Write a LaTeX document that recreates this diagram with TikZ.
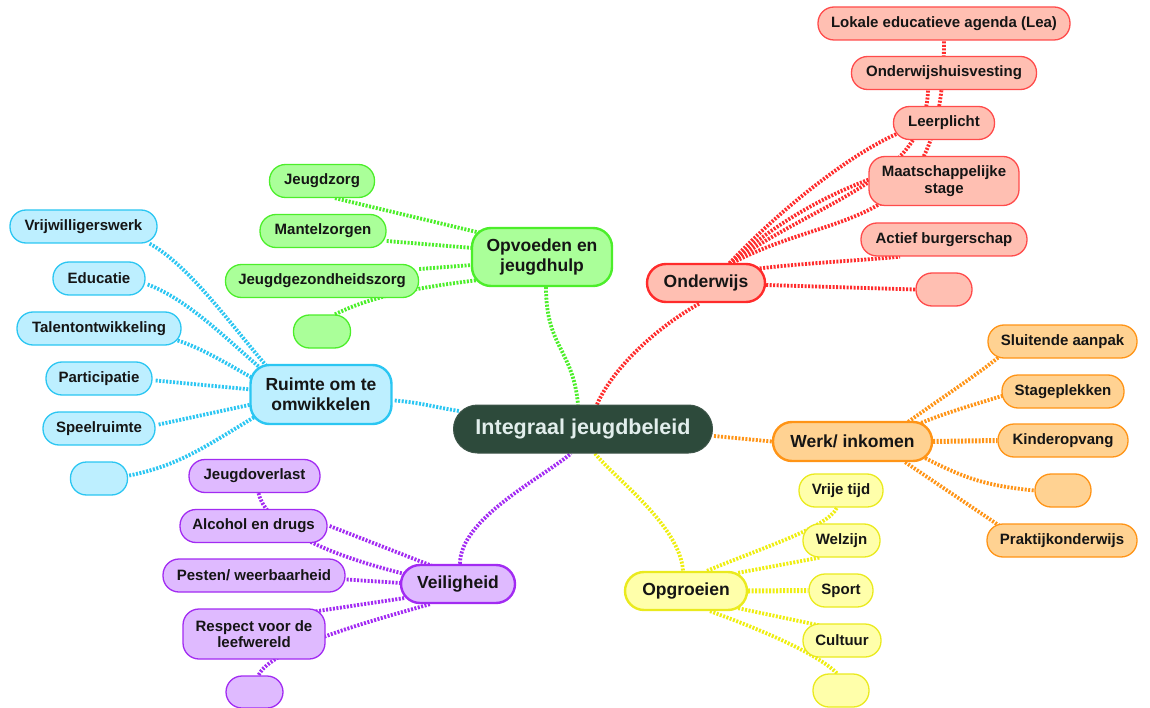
\documentclass[tikz,border=0pt]{standalone}
\usepackage{fontspec}
\setmainfont{Liberation Sans}
\usetikzlibrary{calc,backgrounds}
\definecolor{cdark}{HTML}{2D4A3B}
\definecolor{ctext}{HTML}{E2EEEC}
\definecolor{rfill}{HTML}{FFBFB2}\definecolor{rline}{HTML}{FF2B2B}
\definecolor{gfill}{HTML}{AAFF99}\definecolor{gline}{HTML}{4CEE2A}
\definecolor{bfill}{HTML}{BDEFFF}\definecolor{bline}{HTML}{2BC6F2}
\definecolor{pfill}{HTML}{DFBAFF}\definecolor{pline}{HTML}{A22BF2}
\definecolor{yfill}{HTML}{FFFFAA}\definecolor{yline}{HTML}{EAEA1E}
\definecolor{ycon}{HTML}{EEEE10}
\definecolor{ofill}{HTML}{FFD292}\definecolor{oline}{HTML}{FF9416}
\definecolor{tdark}{HTML}{151515}
\tikzset{
  leaf/.style={rectangle, rounded corners=16pt, minimum height=33pt, inner sep=0pt,
    line width=1.3pt, align=center, text=tdark,
    font=\fontsize{15}{17}\selectfont\bfseries},
  hub/.style={rectangle, rounded corners=19pt, minimum height=38pt, inner sep=0pt,
    line width=2.4pt, align=center, text=tdark,
    font=\fontsize{17.5}{20}\selectfont\bfseries},
  rleaf/.style={leaf, fill=rfill, draw=rline!85},
  gleaf/.style={leaf, fill=gfill, draw=gline},
  bleaf/.style={leaf, fill=bfill, draw=bline},
  pleaf/.style={leaf, fill=pfill, draw=pline},
  yleaf/.style={leaf, fill=yfill, draw=yline},
  oleaf/.style={leaf, fill=ofill, draw=oline},
  con/.style={line width=3.8pt, dash pattern=on 2pt off 1.5pt},
  heavy/.style={line width=5pt},
  rcon/.style={con, draw=rline},
  gcon/.style={con, draw=gline},
  bcon/.style={con, draw=bline},
  pcon/.style={con, draw=pline},
  ycon/.style={con, draw=ycon},
  ocon/.style={con, draw=oline},
}
\begin{document}
\begin{tikzpicture}[x=1pt,y=-1pt]
\useasboundingbox (0,0) rectangle (1150,708);

% center
\node[rectangle, rounded corners=24pt, minimum width=259pt, minimum height=48pt, inner sep=0pt,
  fill=cdark, draw=cdark!80!gray, line width=1pt, text=ctext,
  font=\fontsize{21.5}{24}\selectfont\bfseries] (c) at (583,429) {Integraal jeugdbeleid};

% Onderwijs
\node[hub, fill=rfill, draw=rline, minimum width=118pt] (ow) at (706,283) {Onderwijs};
\node[rleaf, minimum width=252pt] (ow1) at (944,23.5) {Lokale educatieve agenda (Lea)};
\node[rleaf, minimum width=185pt] (ow2) at (944,73) {Onderwijshuisvesting};
\node[rleaf, minimum width=101pt] (ow3) at (944,123) {Leerplicht};
\node[rleaf, minimum width=150pt, minimum height=49pt, font=\fontsize{15}{16.5}\selectfont\bfseries] (ow4) at (944,181) {Maatschappelijke\\stage};
\node[rleaf, minimum width=166pt] (ow5) at (944,239.5) {Actief burgerschap};
\node[rleaf, minimum width=56pt] (ow6) at (944,289.5) {};

% Opvoeden
\node[hub, fill=gfill, draw=gline, minimum width=140pt, minimum height=58pt] (op) at (542,257) {Opvoeden en\\jeugdhulp};
\node[gleaf, minimum width=105pt] (op1) at (322,181) {Jeugdzorg};
\node[gleaf, minimum width=126pt] (op2) at (323,231) {Mantelzorgen};
\node[gleaf, minimum width=193pt] (op3) at (322,281) {Jeugdgezondheidszorg};
\node[gleaf, minimum width=57pt] (op4) at (322,331.5) {};

% Ruimte
\node[hub, fill=bfill, draw=bline, minimum width=141pt, minimum height=59pt] (ru) at (321,394.5) {Ruimte om te\\omwikkelen};
\node[bleaf, minimum width=147pt] (ru1) at (83.5,226.5) {Vrijwilligerswerk};
\node[bleaf, minimum width=92pt] (ru2) at (99,278.5) {Educatie};
\node[bleaf, minimum width=164pt] (ru3) at (99,328.5) {Talentontwikkeling};
\node[bleaf, minimum width=106pt] (ru4) at (99,378.5) {Participatie};
\node[bleaf, minimum width=112pt] (ru5) at (99,428.5) {Speelruimte};
\node[bleaf, minimum width=57pt] (ru6) at (99,478.5) {};

% Veiligheid
\node[hub, fill=pfill, draw=pline, minimum width=114pt] (ve) at (458,584) {Veiligheid};
\node[pleaf, minimum width=131pt] (ve1) at (254.5,476) {Jeugdoverlast};
\node[pleaf, minimum width=147pt] (ve2) at (253.5,526) {Alcohol en drugs};
\node[pleaf, minimum width=182pt] (ve3) at (254,575.5) {Pesten/ weerbaarheid};
\node[pleaf, minimum width=142pt, minimum height=50pt, font=\fontsize{15}{16.5}\selectfont\bfseries] (ve4) at (254,634) {Respect voor de\\leefwereld};
\node[pleaf, minimum width=57pt, minimum height=32pt] (ve5) at (254.5,692) {};

% Opgroeien
\node[hub, fill=yfill, draw=yline, minimum width=122pt] (og) at (686,591) {Opgroeien};
\node[yleaf, minimum width=84pt] (og1) at (841,490.5) {Vrije tijd};
\node[yleaf, minimum width=77pt] (og2) at (841.5,540.5) {Welzijn};
\node[yleaf, minimum width=64pt] (og3) at (841,590.5) {Sport};
\node[yleaf, minimum width=78pt] (og4) at (842,640.5) {Cultuur};
\node[yleaf, minimum width=56pt] (og5) at (841,690.5) {};

% Werk
\node[hub, fill=ofill, draw=oline, minimum width=159pt, minimum height=39pt] (wi) at (852.5,441.5) {Werk/ inkomen};
\node[oleaf, minimum width=149pt] (wi1) at (1062.5,341.5) {Sluitende aanpak};
\node[oleaf, minimum width=122pt] (wi2) at (1063,391.5) {Stageplekken};
\node[oleaf, minimum width=130pt] (wi3) at (1063,440.5) {Kinderopvang};
\node[oleaf, minimum width=56pt] (wi4) at (1063,490.5) {};
\node[oleaf, minimum width=150pt] (wi5) at (1062,540.5) {Praktijkonderwijs};

\begin{scope}[on background layer]
% center links
\draw[gcon] ($(op.south)+(4,0)$) .. controls +(0,60) and +(-5,-55) .. ($(c.north)+(-5,0)$);
\draw[rcon] ($(c.north)+(14,0)$) .. controls +(15,-35) and +(-45,25) .. ($(ow.south)+(-6,0)$);
\draw[ocon] ($(c.east)+(1,7)$) -- (wi.west);
\draw[ycon] ($(c.south)+(12,0)$) .. controls +(20,25) and +(-3,-45) .. ($(og.north)+(-3,0)$);
\draw[pcon] ($(ve.north)+(2,0)$) .. controls +(0,-45) and +(-30,25) .. ($(c.south)+(-12,0)$);
\draw[bcon] ($(ru.east)+(2,6)$) .. controls +(25,2) and +(-25,-4) .. ($(c.west)+(6,-18)$);

% Onderwijs
\draw[rcon] ($(ow.north)+(21,3)$) .. controls +(113,-62) and +(0,200) .. (ow1.south);
\draw[rcon] ($(ow.north)+(21,3)$) .. controls +(93,-67) and +(-3,91) .. ($(ow2.south)+(-16,0)$);
\draw[rcon] ($(ow.north)+(21,3)$) .. controls +(63,-67) and +(-40,17) .. ($(ow3.west)+(6,10)$);
\draw[rcon] ($(ow.north)+(21,3)$) .. controls +(53,-47) and +(-40,15) .. ($(ow4.west)+(2,-2)$);
\draw[rcon] ($(ow.north east)+(-10,6)$) .. controls +(50,-6) and +(-40,4) .. ($(ow5.south)+(-44,0)$);
\draw[rcon] ($(ow.east)+(0,2)$) -- (ow6.west);

% Opvoeden
\draw[gcon] ($(op1.south)+(13,0)$) -- ($(op.west)+(10,-24)$);
\draw[gcon] ($(op2.east)+(0,10)$) -- ($(op.west)+(2,-9)$);
\draw[gcon] ($(op3.east)+(0,-12)$) -- ($(op.west)+(2,8)$);
\draw[gcon] ($(op4.north)+(13,0)$) .. controls +(40,-20) and +(-50,6) .. ($(op.west)+(8,23)$);

% Ruimte
\draw[bcon] ($(ru1.south east)+(-8,0)$) .. controls +(40,22) and +(-35,-40) .. ($(ru.north west)+(18,3)$);
\draw[bcon] ($(ru2.east)+(2,6)$) .. controls +(40,15) and +(-35,-30) .. ($(ru.north west)+(12,5)$);
\draw[bcon] ($(ru3.east)+(-4,12)$) .. controls +(25,8) and +(-25,-14) .. ($(ru.west)+(4,-16)$);
\draw[bcon] ($(ru4.east)+(3,2)$) -- ($(ru.west)+(2,-5)$);
\draw[bcon] ($(ru5.east)+(3,-4)$) -- ($(ru.west)+(2,10)$);
\draw[bcon] ($(ru6.east)+(1,-3)$) .. controls +(50,-10) and +(-50,30) .. ($(ru.west)+(6,22)$);

% Veiligheid
\draw[pcon] ($(ve1.south)+(4,0)$) .. controls +(10,40) and +(-60,-15) .. ($(ve.west)+(5,-10)$);
\draw[pcon] ($(ve2.east)+(2,0)$) -- ($(ve.north west)+(32,2)$);
\draw[pcon] ($(ve3.east)+(1,4)$) -- ($(ve.west)+(1,-1)$);
\draw[pcon] ($(ve4.north east)+(-10,3)$) -- ($(ve.west)+(5,14)$);
\draw[pcon] ($(ve.south west)+(30,0)$) .. controls +(-60,17) and +(12,-27) .. ($(ve5.north)+(4,0)$);

% Opgroeien
\draw[ycon] ($(og.north)+(21,0)$) .. controls +(60,-25) and +(-10,20) .. ($(og1.south)+(-4,0)$);
\draw[ycon] ($(og.north east)+(-10,2)$) -- ($(og2.south west)+(17,0)$);
\draw[ycon, heavy] (og.east) -- (og3.west);
\draw[ycon] ($(og.south east)+(-10,-3)$) -- ($(og4.north west)+(17,2)$);
\draw[ycon] ($(og.south)+(24,0)$) .. controls +(50,18) and +(-20,-20) .. ($(og5.north)+(-4,0)$);

% Werk
\draw[ocon] ($(wi.north east)+(-25,1)$) .. controls +(35,-25) and +(-25,20) .. ($(wi1.south west)+(12,-2)$);
\draw[ocon] ($(wi.north east)+(-12,2)$) .. controls +(30,-12) and +(-25,8) .. ($(wi2.west)+(2,4)$);
\draw[ocon, heavy] (wi.east) -- (wi3.west);
\draw[ocon] ($(wi.south east)+(-8,-4)$) .. controls +(40,20) and +(-50,-5) .. (wi4.west);
\draw[ocon] ($(wi.south east)+(-28,0)$) -- ($(wi5.north west)+(14,3)$);
\end{scope}
\end{tikzpicture}
\end{document}
